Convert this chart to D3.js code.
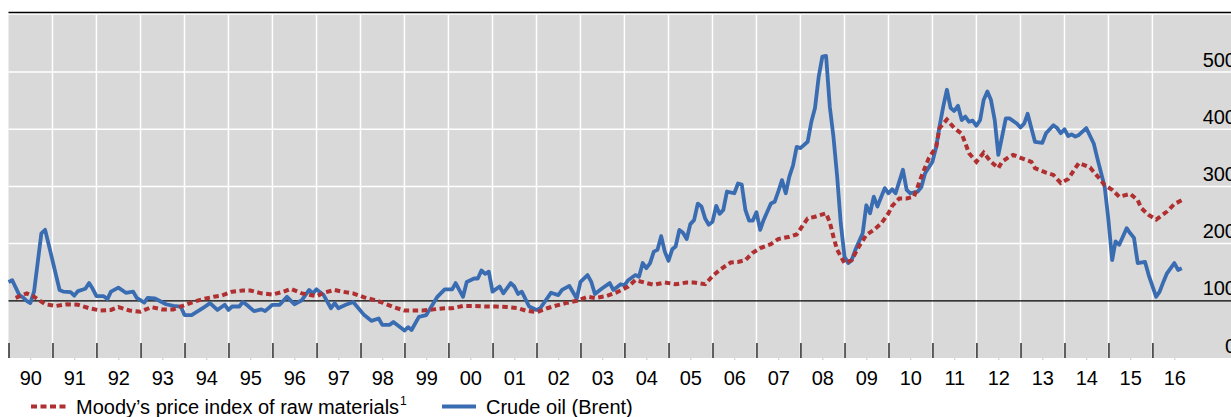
<!DOCTYPE html>
<html>
<head>
<meta charset="utf-8">
<script src="https://cdn.jsdelivr.net/npm/d3@7"></script>
<style>
  body { margin: 0; background: #fff; }
  svg { display: block; font-family: 'Liberation Sans', Arial, sans-serif; }
</style>
</head>
<body>
<div id="graf"></div>
<script>
// Crude oil (Brent), indexed
const oilDates = ['1990-01','1990-02','1990-04','1990-05','1990-06','1990-07','1990-08','1990-10','1990-11','1990-12',
  '1991-03','1991-04','1991-06','1991-07','1991-08','1991-10','1991-11','1991-12',
  '1992-01','1992-03','1992-04','1992-05','1992-07','1992-09','1992-11','1992-12',
  '1993-02','1993-03','1993-05','1993-08','1993-10','1993-12',
  '1994-01','1994-03','1994-06','1994-08','1994-10','1994-12',
  '1995-01','1995-02','1995-04','1995-05','1995-06','1995-08','1995-10','1995-11',
  '1996-01','1996-03','1996-05','1996-07','1996-09','1996-11','1996-12',
  '1997-01','1997-03','1997-05','1997-06','1997-07','1997-09','1997-11',
  '1998-02','1998-04','1998-06','1998-07','1998-09','1998-10',
  '1999-01','1999-02','1999-03','1999-05','1999-07','1999-10','1999-12',
  '2000-02','2000-03','2000-05','2000-06','2000-08','2000-09','2000-10','2000-11','2000-12',
  '2001-01','2001-03','2001-04','2001-06','2001-07','2001-08','2001-09','2001-11',
  '2002-01','2002-02','2002-05','2002-07','2002-08','2002-10','2002-12',
  '2003-01','2003-03','2003-04','2003-05','2003-07','2003-09','2003-10','2003-12',
  '2004-01','2004-02','2004-04','2004-05','2004-06','2004-07','2004-08','2004-09','2004-10','2004-11','2004-12',
  '2005-01','2005-02','2005-03','2005-04','2005-05','2005-06','2005-07','2005-08','2005-09','2005-10','2005-11','2005-12',
  '2006-01','2006-02','2006-03','2006-04','2006-05','2006-07','2006-08','2006-09','2006-10','2006-11','2006-12',
  '2007-01','2007-02','2007-03','2007-05','2007-06','2007-07','2007-08','2007-09','2007-10','2007-11','2007-12',
  '2008-01','2008-03','2008-04','2008-05','2008-06','2008-07','2008-08','2008-09','2008-10','2008-11','2008-12',
  '2009-01','2009-02','2009-03','2009-04','2009-06','2009-07','2009-08','2009-09','2009-10','2009-12',
  '2010-01','2010-02','2010-03','2010-05','2010-06','2010-07','2010-09','2010-10','2010-11',
  '2011-01','2011-02','2011-03','2011-04','2011-05','2011-06','2011-07','2011-08','2011-09','2011-10','2011-11','2011-12',
  '2012-01','2012-02','2012-03','2012-04','2012-05','2012-06','2012-07','2012-08','2012-09','2012-10','2012-12',
  '2013-01','2013-02','2013-03','2013-04','2013-05','2013-07','2013-08','2013-10','2013-11','2013-12',
  '2014-01','2014-02','2014-03','2014-04','2014-05','2014-07','2014-09','2014-10','2014-12',
  '2015-01','2015-02','2015-03','2015-04','2015-06','2015-07','2015-08','2015-09','2015-11','2015-12',
  '2016-02','2016-03','2016-04','2016-05','2016-07','2016-08','2016-09']
const oilValues = [133,136,110,106,100,96,116,218,224,198,
  119,116,115,109,117,121,131,121,
  108,108,103,116,123,114,116,105,
  97,105,104,94,91,90,
  75,75,87,96,84,93,
  84,90,90,98,93,82,85,82,
  93,93,107,94,101,119,113,
  120,110,87,96,87,93,98,
  75,65,69,58,58,63,
  48,54,49,72,75,107,120,
  120,131,107,133,139,139,153,147,151,
  116,125,113,131,125,112,116,90,
  84,87,114,110,119,126,104,
  133,145,133,112,122,131,119,129,
  127,136,145,142,166,157,166,186,189,213,186,
  170,190,195,224,219,208,234,241,270,265,244,233,
  238,266,252,259,291,288,305,303,259,240,240,
  255,224,241,270,273,291,311,288,317,337,369,
  367,378,413,437,492,527,528,439,387,317,235,
  177,166,171,189,218,267,253,282,265,297,
  288,295,288,329,294,288,291,299,323,
  343,369,405,440,469,437,432,441,416,422,413,415,
  406,416,451,466,451,416,355,387,419,419,410,
  403,410,427,402,378,376,393,407,402,393,
  400,388,391,387,390,402,375,349,299,
  241,171,204,198,227,218,210,166,168,145,
  107,116,133,148,166,154,157]

// Moody's price index of raw materials, indexed
const moodyDates = ['1990-03','1990-06','1990-08','1990-11','1991-02','1991-05','1991-08','1991-11',
  '1992-02','1992-05','1992-07','1992-10','1993-01','1993-04','1993-07','1993-10','1993-12',
  '1994-03','1994-06','1994-09','1994-11','1995-02','1995-05','1995-07','1995-10',
  '1996-01','1996-04','1996-06','1996-09','1997-01','1997-03','1997-06','1997-08','1997-11',
  '1998-02','1998-05','1998-07','1998-10','1999-01','1999-03','1999-06','1999-09','1999-12',
  '2000-02','2000-05','2000-08','2000-11','2001-02','2001-05','2001-08','2001-10',
  '2002-01','2002-04','2002-06','2002-09','2002-12','2003-03','2003-05','2003-08','2003-11',
  '2004-02','2004-04','2004-07','2004-09','2004-12','2005-03','2005-06','2005-08','2005-11',
  '2006-01','2006-03','2006-06','2006-08','2006-10','2006-12','2007-02','2007-05','2007-07','2007-10','2007-12',
  '2008-03','2008-05','2008-08','2008-09','2008-10','2008-11',
  '2009-01','2009-03','2009-05','2009-07','2009-09','2009-11',
  '2010-01','2010-02','2010-04','2010-06','2010-08','2010-10','2010-12',
  '2011-02','2011-03','2011-05','2011-07','2011-09','2011-11',
  '2012-01','2012-03','2012-05','2012-07','2012-08','2012-10','2012-11',
  '2013-01','2013-04','2013-05','2013-08','2013-10','2013-12',
  '2014-02','2014-04','2014-05','2014-08','2014-10','2014-12',
  '2015-02','2015-04','2015-07','2015-09','2015-10','2015-12',
  '2016-02','2016-05','2016-07','2016-09']
const moodyValues = [105,113,107,94,91,94,93,87,
  83,84,89,83,81,89,85,85,90,
  97,103,107,109,116,118,118,113,
  111,116,121,113,108,114,119,116,113,
  106,101,97,89,83,83,83,85,87,
  87,91,91,90,90,89,87,83,
  80,87,91,96,100,107,105,108,115,
  125,136,131,128,132,129,132,132,129,
  143,154,167,168,171,184,192,199,208,212,216,
  244,247,253,237,212,189,
  166,171,195,215,224,235,
  253,266,279,279,282,317,349,
  369,402,417,402,392,358,
  343,359,343,332,343,352,355,
  350,343,332,324,320,306,
  313,332,341,333,318,302,
  294,282,287,276,262,250,
  242,256,269,276]

const yTicks = [0, 100, 200, 300, 400, 500]
const years = d3.range(1990, 2017)
const legendLabels = ['Moody\u2019s price index of raw materials', 'Crude oil (Brent)']

const anchoTotal = 1231
const altoTotal = 417

const colores = { oil: '#3a6cb2', moody: '#b02f30', fondo: '#d9d9d9' }

const parse = d3.timeParse('%Y-%m')
const oil = oilDates.map((d, i) => ({ fecha: parse(d), valor: oilValues[i] }))
const moody = moodyDates.map((d, i) => ({ fecha: parse(d), valor: moodyValues[i] }))

const svg = d3.select('#graf')
  .append('svg')
  .attr('width', anchoTotal)
  .attr('height', altoTotal)

const x = d3.scaleTime()
  .domain([new Date(1990, 0, 1), new Date(2017, 0, 1)])
  .range([8.5, 1196.5])

const y = d3.scaleLinear()
  .domain([0, 600])
  .range([358, 14.8])

// fondo gris
svg.append('rect')
  .attr('x', x.range()[0])
  .attr('y', y(600))
  .attr('width', anchoTotal - x.range()[0] + 10)
  .attr('height', y(0) - y(600))
  .attr('fill', colores.fondo)

// lineas de la cuadricula
svg.append('g')
  .selectAll('line')
  .data(years.slice(1))
  .join('line')
  .attr('x1', d => x(new Date(d, 0, 1)))
  .attr('x2', d => x(new Date(d, 0, 1)))
  .attr('y1', y(600))
  .attr('y2', y(0))
  .attr('stroke', '#fff')
  .attr('stroke-width', 1.5)

svg.append('g')
  .selectAll('line')
  .data(yTicks.filter(d => d > 100))
  .join('line')
  .attr('x1', x.range()[0])
  .attr('x2', anchoTotal + 10)
  .attr('y1', d => y(d))
  .attr('y2', d => y(d))
  .attr('stroke', '#fff')
  .attr('stroke-width', 1.5)

// eje x: marcas de año y etiquetas a mitad de año
const xAxisGroup = svg.append('g')
  .attr('transform', `translate(0, ${y(0)})`)

xAxisGroup.call(
  d3.axisBottom(x)
    .tickValues(years.map(d => new Date(d, 0, 1)))
    .tickSize(-15)
    .tickFormat('')
)
xAxisGroup.select('.domain').remove()
xAxisGroup.selectAll('.tick line').attr('stroke', '#000').attr('stroke-width', 1.2)

const xLabels = svg.append('g')
  .attr('transform', `translate(0, ${y(0)})`)

xLabels.call(
  d3.axisBottom(x)
    .tickValues(years.map(d => new Date(d, 6, 1)))
    .tickSize(2)
    .tickPadding(11)
    .tickFormat(d3.timeFormat('%y'))
)
xLabels.select('.domain').remove()
xLabels.selectAll('.tick line').attr('stroke', '#c8c8c8')
xLabels.selectAll('text')
  .attr('font-size', 20)
  .attr('font-family', "'Liberation Sans', Arial, sans-serif")
  .attr('fill', '#000')

// linea de 100 y borde superior
svg.append('line')
  .attr('x1', x.range()[0])
  .attr('x2', anchoTotal + 10)
  .attr('y1', y(100))
  .attr('y2', y(100))
  .attr('stroke', '#000')
  .attr('stroke-width', 1.3)

svg.append('line')
  .attr('x1', x.range()[0])
  .attr('x2', anchoTotal + 10)
  .attr('y1', y(600) - 2.2)
  .attr('y2', y(600) - 2.2)
  .attr('stroke', '#000')
  .attr('stroke-width', 1.5)

// etiquetas eje y (derecha)
svg.append('g')
  .selectAll('text')
  .data(yTicks)
  .join('text')
  .attr('x', 1236)
  .attr('y', d => y(d) - 5.5)
  .attr('text-anchor', 'end')
  .attr('font-size', 20)
  .attr('fill', '#000')
  .text(d => d)

// series
const linea = d3.line()
  .x(d => x(d.fecha))
  .y(d => y(d.valor))

svg.append('path')
  .datum(oil)
  .attr('d', linea)
  .attr('fill', 'none')
  .attr('stroke', colores.oil)
  .attr('stroke-width', 3.8)
  .attr('stroke-linejoin', 'round')

svg.append('path')
  .datum(moody)
  .attr('d', linea)
  .attr('fill', 'none')
  .attr('stroke', colores.moody)
  .attr('stroke-width', 4)
  .attr('stroke-dasharray', '5.5,3.5')

// leyenda
const leyenda = svg.append('g')

leyenda.append('line')
  .attr('x1', 31).attr('x2', 66)
  .attr('y1', 406.5).attr('y2', 406.5)
  .attr('stroke', colores.moody)
  .attr('stroke-width', 4)
  .attr('stroke-dasharray', '6,3.5')

const t1 = leyenda.append('text')
  .attr('x', 76)
  .attr('y', 414)
  .attr('font-size', 20)
  .text(legendLabels[0])
t1.append('tspan')
  .attr('font-size', 12)
  .attr('dy', -9)
  .attr('dx', 1)
  .text('1')

leyenda.append('line')
  .attr('x1', 442).attr('x2', 476)
  .attr('y1', 406.5).attr('y2', 406.5)
  .attr('stroke', colores.oil)
  .attr('stroke-width', 4)

leyenda.append('text')
  .attr('x', 486)
  .attr('y', 414)
  .attr('font-size', 20)
  .text(legendLabels[1])
</script>
</body>
</html>
